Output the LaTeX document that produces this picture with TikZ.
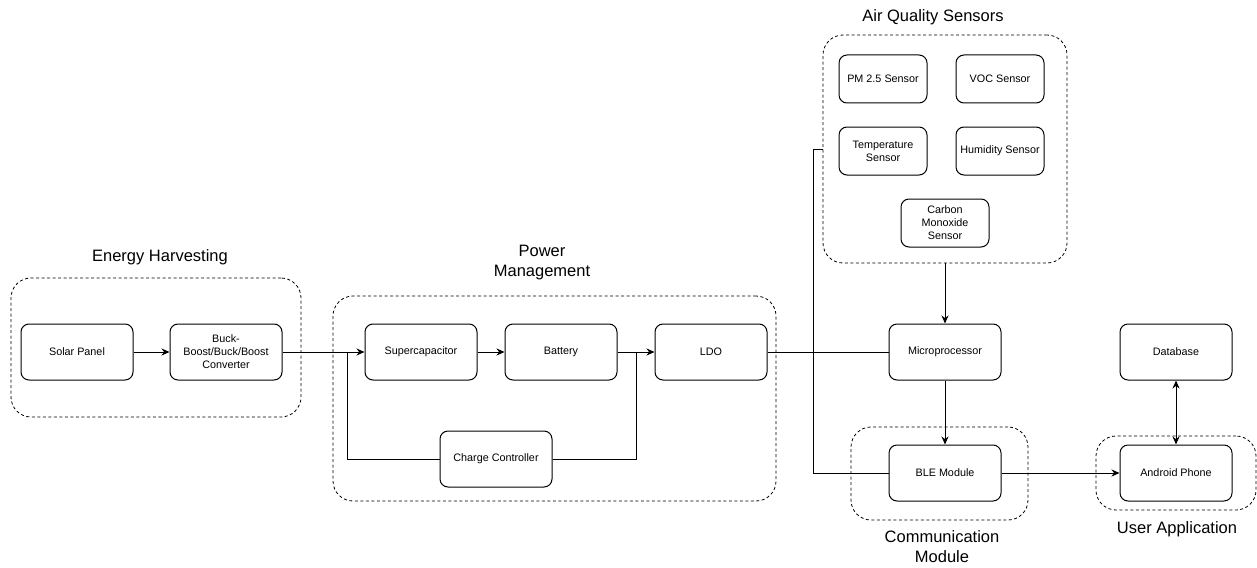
\documentclass[tikz,border=0pt]{standalone}
\usepackage{fontspec}
\setmainfont{Liberation Sans}
\usetikzlibrary{arrows.meta}
\begin{document}
\begin{tikzpicture}[x=1pt,y=-1pt,
 blk/.style={draw, rounded corners=8pt, line width=1pt, minimum width=112pt, minimum height=56pt, inner sep=2pt, align=center, font=\fontsize{10.8}{13}\selectfont},
 sen/.style={blk, minimum width=88pt, minimum height=48pt},
 grp/.style={draw, dash pattern=on 3pt off 2.5pt, rounded corners=20pt, line width=0.8pt, inner sep=0pt},
 ttl/.style={align=center, font=\fontsize{16.5}{20}\selectfont},
 arr/.style={-{Stealth[length=8pt,width=7pt]}, line width=1pt},
 darr/.style={{Stealth[length=8pt,width=7pt]}-{Stealth[length=8pt,width=7pt]}, line width=1pt},
 ln/.style={line width=1pt}]
\useasboundingbox (0,0) rectangle (1257,567);

% groups
\node[grp, minimum width=290pt, minimum height=139pt] (eh) at (156,347.5) {};
\node[grp, minimum width=443pt, minimum height=205pt] (pm) at (554.5,398.5) {};
\node[grp, minimum width=244pt, minimum height=228pt] (aqs) at (945,149) {};
\node[grp, minimum width=177pt, minimum height=93pt] (comm) at (939.5,473.5) {};
\node[grp, minimum width=160pt, minimum height=74pt] (ua) at (1176,473) {};

% titles
\node[ttl] (teh) at (160,257) {Energy Harvesting};
\node[ttl] (tpm) at (542,263) {Power\\Management};
\node[ttl] (taqs) at (933,17) {Air Quality Sensors};
\node[ttl] (tcomm) at (942,547) {Communication\\Module};
\node[ttl] (tua) at (1177,529) {User Application};

% blocks
\node[blk] (solar) at (77,352) {Solar Panel};
\node[blk] (buck) at (226,352) {Buck-\\Boost/Buck/Boost\\Converter};
\node[blk] (sc) at (421,352) {Supercapacitor};
\node[blk] (bat) at (561,352) {Battery};
\node[blk] (ldo) at (711,352) {LDO};
\node[blk] (cc) at (496,459) {Charge Controller};
\node[sen] (pm25) at (883,79) {PM 2.5 Sensor};
\node[sen] (voc) at (1000,79) {VOC Sensor};
\node[sen] (temp) at (883,151) {Temperature\\Sensor};
\node[sen] (hum) at (1000,151) {Humidity Sensor};
\node[sen] (co) at (945,223) {Carbon\\Monoxide\\Sensor};
\node[blk] (mcu) at (945,352) {Microprocessor};
\node[blk] (ble) at (945,473) {BLE Module};
\node[blk] (db) at (1176,352) {Database};
\node[blk] (and) at (1176,473) {Android Phone};

% junctions
\coordinate (j1) at (347,352);
\coordinate (j2) at (636,352);
\coordinate (j3) at (813,352);

% connectors
\draw[arr] (solar) -- (buck);
\draw[arr] (buck) -- (sc);
\draw[ln] (j1) |- (cc.west);
\draw[arr] (sc) -- (bat);
\draw[arr] (bat) -- (ldo);
\draw[ln] (cc.east) -| (j2);
\draw[ln] (ldo) -- (mcu);
\draw[ln] (aqs.west) -| (j3) |- (ble.west);
\draw[arr] (aqs.south) -- (mcu.north);
\draw[arr] (mcu) -- (ble);
\draw[arr] (ble) -- (and);
\draw[darr] (db) -- (and);
\end{tikzpicture}
\end{document}
